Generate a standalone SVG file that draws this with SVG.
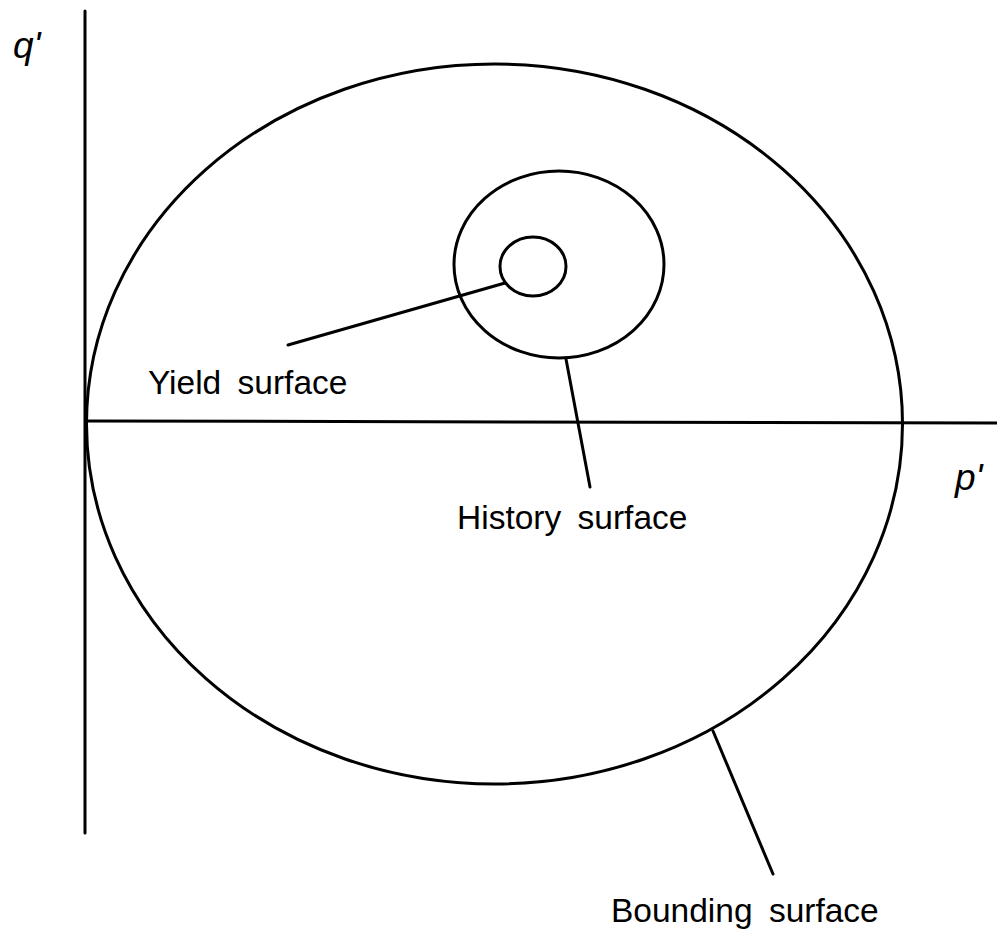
<svg xmlns="http://www.w3.org/2000/svg" width="997" height="933" viewBox="0 0 997 933">
<style>
.ln{stroke:#000;stroke-width:3;fill:none;stroke-linecap:round}
.sf{stroke:#000;stroke-width:3;fill:none}
.lbl{font-family:"Liberation Sans",Arial,sans-serif;font-size:33.5px;word-spacing:7px;fill:#000}
.ax{font-family:"Liberation Sans",Arial,sans-serif;font-size:37px;font-style:italic;fill:#000}
</style>
<rect width="997" height="933" fill="#fff"/>
<g id="axes">
<line class="ln" x1="85" y1="11" x2="85" y2="833"/>
<line class="ln" x1="86" y1="421" x2="997" y2="423"/>
<text class="ax" x="13" y="58">q'</text>
<text class="ax" x="955" y="490">p'</text>
</g>
<g id="bounding-surface">
<ellipse class="sf" cx="494.5" cy="424" rx="408" ry="360"/>
</g>
<g id="history-surface">
<ellipse class="sf" cx="559" cy="264.5" rx="105" ry="93.5"/>
</g>
<g id="yield-surface">
<ellipse class="sf" cx="533" cy="266.5" rx="33" ry="29.5"/>
</g>
<g id="connectors">
<line class="ln" x1="505" y1="283" x2="288" y2="345"/>
<line class="ln" x1="566" y1="359" x2="590" y2="487"/>
<line class="ln" x1="713" y1="731" x2="773" y2="874"/>
</g>
<g id="labels">
<text class="lbl" x="148" y="394">Yield surface</text>
<text class="lbl" x="457" y="529">History surface</text>
<text class="lbl" x="611" y="922">Bounding surface</text>
</g>
</svg>
